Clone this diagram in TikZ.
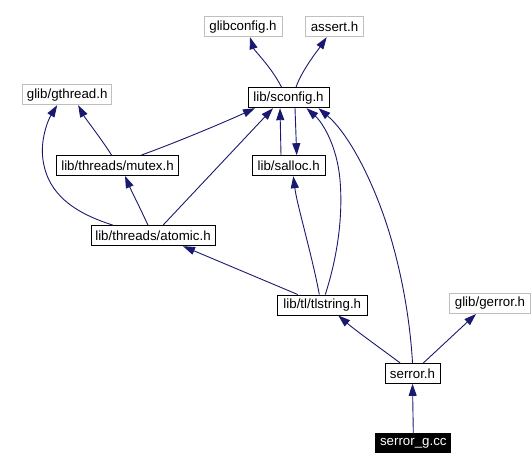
\documentclass[tikz,border=0pt]{standalone}
\usepackage{fontspec}
\setmainfont{Liberation Sans}
\usetikzlibrary{arrows.meta,calc}
\definecolor{edgeblue}{RGB}{25,25,112}
\definecolor{extgray}{RGB}{191,191,191}
\begin{document}
\begin{tikzpicture}[x=1pt,y=-1pt,
 file/.style={draw=black,line width=1pt,minimum height=20pt,inner sep=0pt,font=\fontsize{13.3}{15}\selectfont,fill=white},
 ext/.style={file,draw=extgray},
 focus/.style={file,fill=black,text=white,minimum height=18.5pt},
 dep/.style={draw=edgeblue,line width=0.9pt,-{Triangle[length=12pt,width=8pt]}}]
\useasboundingbox (0,0) rectangle (532,470);
\node[ext,minimum width=78pt] (glibconfig) at (243,26.7) {glibconfig.h};
\node[ext,minimum width=58pt] (assert) at (334.5,26.7) {assert.h};
\node[file,minimum width=81pt] (sconfig) at (288.5,97.7) {lib/sconfig.h};
\node[ext,minimum width=89pt] (gthread) at (67.2,94.7) {glib/gthread.h};
\node[file,minimum width=122pt] (mutex) at (117.5,165.5) {lib/threads/mutex.h};
\node[file,minimum width=73pt] (salloc) at (288.7,165.7) {lib/salloc.h};
\node[file,minimum width=124pt] (atomic) at (153,235.7) {lib/threads/atomic.h};
\node[file,minimum width=90pt] (tlstring) at (322.3,305) {lib/tl/tlstring.h};
\node[ext,minimum width=81pt] (gerror) at (490,303.5) {glib/gerror.h};
\node[file,minimum width=55pt] (serror) at (412.5,373.3) {serror.h};
\node[focus,minimum width=75pt] (serrorg) at (413.3,443.2) {serror\_g.cc};

\draw[dep] ($(sconfig.north)+(-7,0)$) .. controls (272,68) and (254,50) .. ($(glibconfig.south)+(7,0)$);
\draw[dep] ($(sconfig.north)+(7.5,0)$) .. controls (302,70) and (318,50) .. ($(assert.south)+(-7.8,0)$);
\draw[dep] ($(mutex.north)+(-6,0)$) .. controls (100,137) and (85,118) .. ($(gthread.south)+(11,0)$);
\draw[dep] ($(mutex.north)+(24,0)$) .. controls (175,143) and (225,122) .. ($(sconfig.south)+(-33.5,0)$);
\draw[dep] ($(atomic.north)+(-40,0)$) .. controls (75,213) and (48,195) .. (43,160) .. controls (40,140) and (48,120) .. ($(gthread.south)+(-10,0)$);
\draw[dep] ($(atomic.north)+(-5,0)$) .. controls (141,210) and (131,190) .. ($(mutex.south)+(7.5,0)$);
\draw[dep] ($(atomic.north)+(10,0)$) -- ($(sconfig.south)+(-15.5,0)$);
\draw[dep] ($(salloc.north)+(-7.7,0)$) -- ($(sconfig.south)+(-8.5,0)$);
\draw[dep] ($(sconfig.south)+(6.5,0)$) -- ($(salloc.north)+(8,0)$);
\draw[dep] ($(tlstring.north)+(-3,0)$) .. controls (312,255) and (297,205) .. ($(salloc.south)+(4.6,0)$);
\draw[dep] ($(tlstring.north)+(3,0)$) .. controls (338,255) and (343,215) .. (340,180) .. controls (337,145) and (322,122) .. ($(sconfig.south)+(18,0)$);
\draw[dep] (serror.north) .. controls (410,320) and (402,275) .. (390,235) .. controls (375,185) and (350,135) .. ($(sconfig.south)+(30,0)$);
\draw[dep] ($(tlstring.north)+(-24.6,0)$) -- ($(atomic.south)+(30,0)$);
\draw[dep] ($(serror.north)+(-12.5,0)$) .. controls (380,348) and (355,330) .. ($(tlstring.south)+(16,0)$);
\draw[dep] ($(serror.north)+(11,0)$) -- ($(gerror.south)+(-14,0)$);
\draw[dep] (serrorg.north) -- (serror.south);
\end{tikzpicture}
\end{document}
